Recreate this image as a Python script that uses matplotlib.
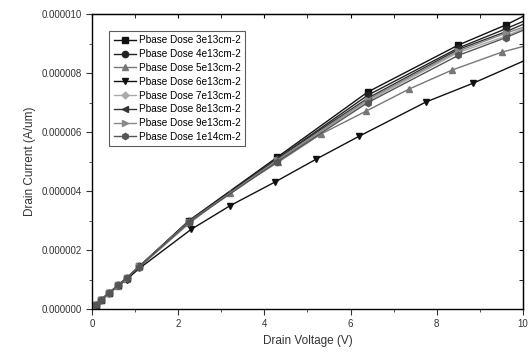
import matplotlib
matplotlib.use("Agg")
import matplotlib.pyplot as plt
from matplotlib.ticker import MultipleLocator, FormatStrFormatter

plt.rcParams['font.family'] = ['Liberation Sans', 'DejaVu Sans']

# drain voltage (V) and drain current (1e-6 A/um)
x_main = [0.1, 0.2, 0.4, 0.6, 0.8, 1.1, 2.25, 4.3, 6.4, 8.5, 9.6, 10.0]
x_5e13 = [0.1, 0.2, 0.4, 0.6, 0.8, 1.1, 2.25, 3.2, 4.32, 5.31, 6.36, 7.36, 8.35, 9.51, 10.0]
x_6e13 = [0.1, 0.2, 0.4, 0.6, 0.8, 1.1, 2.3, 3.2, 4.25, 5.2, 6.2, 7.75, 8.85, 10.0]

i_3e13 = [0.15, 0.3, 0.55, 0.8, 1.05, 1.45, 3.0, 5.15, 7.36, 8.95, 9.63, 9.92]
i_4e13 = [0.15, 0.3, 0.55, 0.8, 1.05, 1.45, 2.98, 5.1, 7.25, 8.85, 9.5, 9.75]
i_5e13 = [0.15, 0.3, 0.55, 0.78, 1.03, 1.42, 2.9, 3.95, 4.98, 5.93, 6.71, 7.46, 8.1, 8.71, 8.9]
i_6e13 = [0.15, 0.3, 0.55, 0.78, 1.0, 1.38, 2.7, 3.5, 4.31, 5.08, 5.86, 7.02, 7.66, 8.4]
i_7e13 = [0.15, 0.3, 0.55, 0.8, 1.05, 1.44, 2.95, 5.05, 7.05, 8.7, 9.25, 9.5]
i_8e13 = [0.15, 0.3, 0.55, 0.8, 1.05, 1.45, 2.97, 5.1, 7.15, 8.8, 9.4, 9.65]
i_9e13 = [0.15, 0.3, 0.55, 0.8, 1.05, 1.45, 2.96, 5.05, 7.1, 8.75, 9.35, 9.55]
i_1e14 = [0.15, 0.3, 0.55, 0.8, 1.05, 1.44, 2.95, 5.0, 7.0, 8.6, 9.2, 9.45]

labels = ['Pbase Dose 3e13cm-2', 'Pbase Dose 4e13cm-2', 'Pbase Dose 5e13cm-2',
          'Pbase Dose 6e13cm-2', 'Pbase Dose 7e13cm-2', 'Pbase Dose 8e13cm-2',
          'Pbase Dose 9e13cm-2', 'Pbase Dose 1e14cm-2']

series = [
    (x_main, i_3e13, 's', '#111111'),
    (x_main, i_4e13, 'o', '#222222'),
    (x_5e13, i_5e13, '^', '#777777'),
    (x_6e13, i_6e13, 'v', '#111111'),
    (x_main, i_7e13, 'D', '#aaaaaa'),
    (x_main, i_8e13, '<', '#333333'),
    (x_main, i_9e13, '>', '#888888'),
    (x_main, i_1e14, 'h', '#555555'),
]

fig = plt.figure(figsize=(5.32, 3.61), dpi=100)
ax = fig.add_axes([0.173, 0.144, 0.81, 0.817])

for (xs, ys, m, c), lab in zip(series, labels):
    ax.plot(xs, [v * 1e-6 for v in ys], color=c, lw=1.0, marker=m,
            ms=4.5 if m != 'D' else 3.5, markevery=slice(0, len(xs) - 1), label=lab)

ax.set_xlim(0, 10)
ax.set_ylim(0, 1e-5)
ax.xaxis.set_major_locator(MultipleLocator(2))
ax.xaxis.set_minor_locator(MultipleLocator(1))
ax.yaxis.set_major_locator(MultipleLocator(2e-6))
ax.yaxis.set_minor_locator(MultipleLocator(1e-6))
ax.yaxis.set_major_formatter(FormatStrFormatter('%.6f'))
ax.tick_params(axis='both', which='both', labelsize=7, colors='#333333')
ax.tick_params(which='major', length=4, direction='out')
ax.tick_params(which='minor', length=2, direction='out')
for s in ax.spines.values():
    s.set_linewidth(1.0)

sec = ax.secondary_xaxis('top')
sec.xaxis.set_major_locator(MultipleLocator(2))
sec.xaxis.set_minor_locator(MultipleLocator(1))
sec.tick_params(which='both', direction='in', labeltop=False, length=3)
sec_y = ax.secondary_yaxis('right')
sec_y.yaxis.set_major_locator(MultipleLocator(2e-6))
sec_y.yaxis.set_minor_locator(MultipleLocator(1e-6))
sec_y.tick_params(which='both', direction='in', labelright=False, length=3)

ax.set_xlabel('Drain Voltage (V)', fontsize=8.5, color='#333333')
ax.set_ylabel('Drain Current (A/um)', fontsize=8.5, color='#333333')

leg = ax.legend(loc='upper left', bbox_to_anchor=(0.028, 0.96), fontsize=7.2,
                frameon=True, fancybox=False, edgecolor='#333333',
                handlelength=2.2, handletextpad=0.3, borderpad=0.45,
                labelspacing=0.38)
leg.get_frame().set_linewidth(0.8)

fig.savefig('out.png', dpi=100)
